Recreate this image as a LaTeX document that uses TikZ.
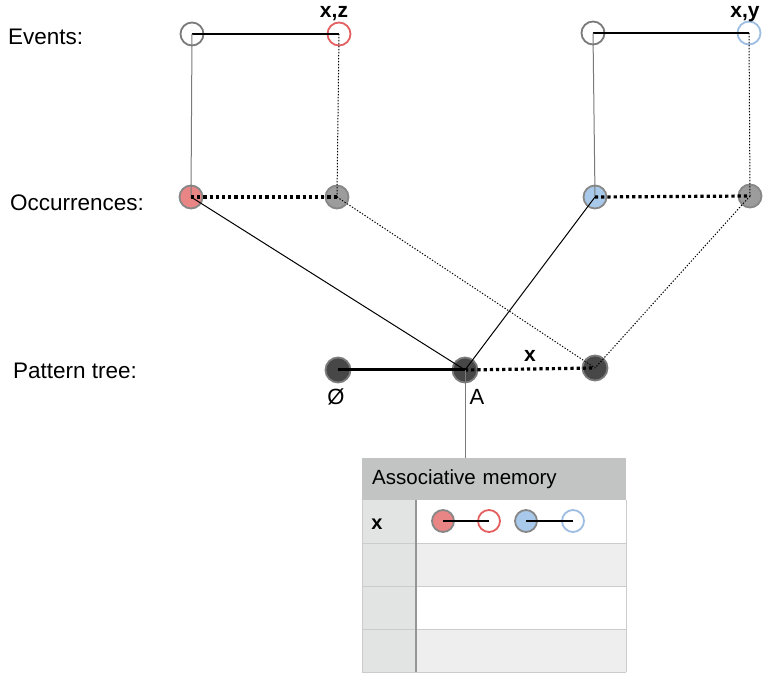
\documentclass[tikz,border=0pt]{standalone}
\usepackage{fontspec}
\setmainfont{Liberation Sans}
\definecolor{ringgray}{HTML}{7A7A7A}
\definecolor{ringred}{HTML}{E46060}
\definecolor{ringblue}{HTML}{9DBEE2}
\definecolor{fillred}{HTML}{E98585}
\definecolor{fillblue}{HTML}{A8C9EA}
\definecolor{fillgray}{HTML}{9C9C9C}
\definecolor{filldark}{HTML}{474747}
\definecolor{headgray}{HTML}{C2C3C3}
\definecolor{colgray}{HTML}{E2E3E3}
\definecolor{rowgray}{HTML}{EEEEEE}
\definecolor{gridgray}{HTML}{CBCBCB}

\begin{document}
\begin{tikzpicture}[
      x=1pt, y=-1pt,
      dot/.style={circle, minimum size=23pt, inner sep=0pt, line width=1.8pt}, % base circle
      evt/.style={dot, draw=#1, fill=white},
      occ/.style={dot, draw=ringgray!90, fill=#1},
      tnode/.style={dot, minimum size=25pt, draw=ringgray, fill=filldark},
      rowlabel/.style={font=\fontsize{22.5}{26}\selectfont, anchor=base west, inner sep=0pt},
      tag/.style={font=\fontsize{21}{25}\selectfont\bfseries, anchor=base},
      link/.style={line width=1pt},
      dotlink/.style={line width=1pt, dash pattern=on 1.3pt off 1.7pt},
      thickdots/.style={line width=3.2pt, dash pattern=on 3.2pt off 3pt},
      header/.style={fill=headgray, anchor=north west, minimum width=264pt, minimum height=42pt,
                     inner xsep=10pt, text width=244pt, align=left, font=\fontsize{20.5}{24}\selectfont}
    ]
    \useasboundingbox (0,0) rectangle (771,684);

    % Row labels
    \node[rowlabel] (lblevt) at (8,45) {Events:};
    \node[rowlabel] (lblocc) at (10,211) {Occurrences:};
    \node[rowlabel] (lbltree) at (13,379) {Pattern tree:};

    % Events
    \node[evt=ringgray] (e1) at (192,34) {};
    \node[evt=ringred] (e2) at (339,34) {};
    \node[evt=ringgray] (e3) at (593,33) {};
    \node[evt=ringblue] (e4) at (749,33) {};
    \node[tag] (tagxz) at (334,18) {x,z};
    \node[tag] (tagxy) at (745,18) {x,y};

    % Occurrences
    \node[occ=fillred] (o1) at (191,197) {};
    \node[occ=fillgray] (o2) at (337,197) {};
    \node[occ=fillblue] (o3) at (595,197) {};
    \node[occ=fillgray] (o4) at (750,196) {};

    % Pattern tree
    \node[tnode] (empty) at (338,370) {};
    \node[tnode] (A) at (465,370) {};
    \node[tnode] (px) at (595,368) {};
    \node[font=\fontsize{22}{26}\selectfont, anchor=base] (lblempty) at (336,405) {Ø};
    \node[font=\fontsize{22}{26}\selectfont, anchor=base] (lblA) at (477,405) {A};
    \node[tag] (tagx) at (530,362) {x};

    % Connectors
    \draw[line width=2pt] (e1.center) -- (e2.center);
    \draw[line width=2pt] (e3.center) -- (e4.center);
    \draw[link, ringgray] (e1.center) -- (o1.center);
    \draw[link, ringgray] (e3.center) -- (o3.center);
    \draw[dotlink] (e2.center) -- (o2.center);
    \draw[dotlink] (e4.center) -- (o4.center);
    \draw[thickdots] (o1.center) -- (o2.center);
    \draw[thickdots] (o3.center) -- (o4.center);
    \draw[link] (o1.center) -- (A.center);
    \draw[link] (o3.center) -- (A.center);
    \draw[dotlink] (o2.center) -- (px.center);
    \draw[dotlink] (o4.center) -- (px.center);
    \draw[line width=3pt] (empty.center) -- (A.center);
    \draw[thickdots] (A.center) -- (px.center);

    % Associative memory table
    \node[header] (mem) at (362,458) {Associative memory};
    \fill[colgray] (362,500) rectangle (416,672);
    \fill[white] (416,500) rectangle (626,543);
    \fill[rowgray] (416,543) rectangle (626,586);
    \fill[white] (416,586) rectangle (626,629);
    \fill[rowgray] (416,629) rectangle (626,672);
    \foreach \y in {543,586,629,672}
      \draw[gridgray, line width=1pt] (362,\y) -- (626,\y);
    \draw[gridgray, line width=1pt] (626,500) -- (626,672);
    \draw[gridgray, line width=1pt] (362,500) -- (362,672);
    \draw[ringgray!80, line width=1.2pt] (416,500) -- (416,672);
    \draw[link, ringgray] (A.center) -- (A.center |- mem.north);

    \node[font=\fontsize{20}{24}\selectfont\bfseries, anchor=base] (keyx) at (377,529) {x};
    \node[occ=fillred, minimum size=22pt] (m1) at (443,521) {};
    \node[evt=ringred, minimum size=22pt] (m2) at (489,521) {};
    \node[occ=fillblue, minimum size=22pt] (m3) at (526,521) {};
    \node[evt=ringblue, minimum size=22pt] (m4) at (573,521) {};
    \draw[line width=1.5pt] (m1.center) -- (m2.center);
    \draw[line width=1.5pt] (m3.center) -- (m4.center);
    \end{tikzpicture}
\end{document}
